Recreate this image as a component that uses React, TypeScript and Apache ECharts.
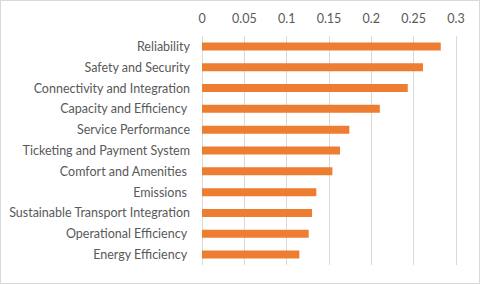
import React, { useEffect, useRef } from "react";
import * as echarts from "echarts";

const categories = [
  "Reliability",
  "Safety and Security",
  "Connectivity and Integration",
  "Capacity and Efficiency ",
  "Service Performance",
  "Ticketing and Payment System",
  "Comfort and Amenities ",
  "Emissions ",
  "Sustainable Transport Integration",
  "Operational Efficiency ",
  "Energy Efficiency ",
];
const values = [0.282, 0.261, 0.243, 0.21, 0.174, 0.163, 0.154, 0.135, 0.13, 0.126, 0.115];
const xTicks = { min: 0, max: 0.3, interval: 0.05 };

export default function App() {
  const ref = useRef<HTMLDivElement>(null);
  useEffect(() => {
    if (!ref.current) return;
    const chart = echarts.init(ref.current, null, { renderer: "svg" });
    chart.setOption({
      animation: false,
      textStyle: { fontFamily: "Lato" },
      grid: { left: 202, right: 24, top: 36, bottom: 19, containLabel: false },
      xAxis: {
        type: "value",
        position: "top",
        min: xTicks.min,
        max: xTicks.max,
        interval: xTicks.interval,
        axisLine: { show: false },
        axisTick: { show: false },
        splitLine: { lineStyle: { color: "#d9d9d9", width: 1 } },
        axisLabel: { color: "#595959", fontSize: 12.5, margin: 11, fontFamily: "Lato" },
      },
      yAxis: {
        type: "category",
        inverse: true,
        data: categories,
        axisLine: { show: false },
        axisTick: { show: false },
        axisLabel: { color: "#595959", fontSize: 12.5, margin: 12, fontFamily: "Lato" },
      },
      series: [
        {
          type: "bar",
          data: values,
          barWidth: 8,
          itemStyle: { color: "#ED7D31" },
        },
      ],
    });
    return () => chart.dispose();
  }, []);
  return (
    <div style={{ position: "fixed", left: 0, top: 0, width: 480, height: 284, background: "#fff" }}>
      <div ref={ref} style={{ position: "absolute", left: 0, top: 0, width: 480, height: 284 }} />
      <div
        style={{
          position: "absolute",
          left: 0,
          top: 0,
          width: 480,
          height: 284,
          boxSizing: "border-box",
          border: "1px solid #d9d9d9",
          pointerEvents: "none",
        }}
      />
    </div>
  );
}
